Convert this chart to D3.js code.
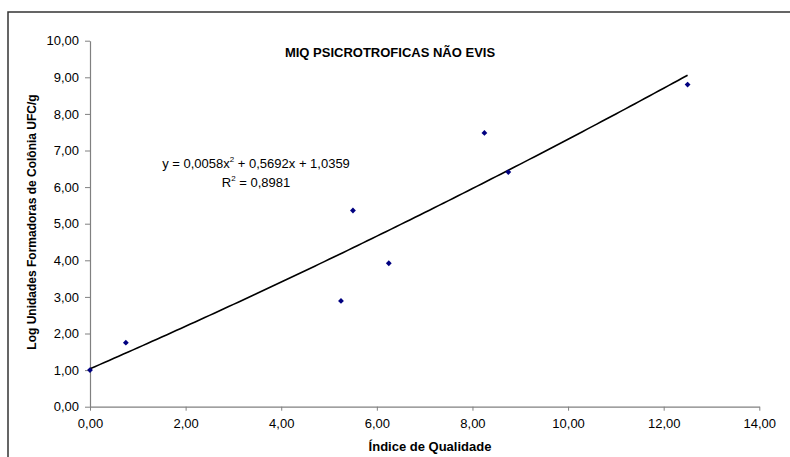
<!DOCTYPE html>
<html><head><meta charset="utf-8">
<script src="https://cdn.jsdelivr.net/npm/d3@7"></script>
<style>body{margin:0;background:#fff;}svg{display:block;font-family:"Liberation Sans",Arial,sans-serif;}</style>
</head><body>
<svg id="c" width="790" height="457"></svg>
<script>
const xValues = [0, 0.75, 5.25, 5.5, 6.25, 8.25, 8.75, 12.5];
const yValues = [1.00, 1.75, 2.89, 5.36, 3.92, 7.48, 6.41, 8.80];
const coef = [0.0058, 0.5692, 1.0359];
const xTicks = [0, 2, 4, 6, 8, 10, 12, 14];
const yTicks = [0, 1, 2, 3, 4, 5, 6, 7, 8, 9, 10];
const title = "MIQ PSICROTROFICAS NÃO EVIS";
const xLabel = "Índice de Qualidade";
const yLabel = "Log Unidades Formadoras de Colônia UFC/g";

const svg = d3.select("#c");
const fmt = v => v.toFixed(2).replace(".", ",");
const x = d3.scaleLinear().domain([0, 14]).range([90, 759.3]);
const y = d3.scaleLinear().domain([0, 10]).range([406.7, 40.7]);
const FONT = '"Liberation Sans",Arial,sans-serif';

// outer frame
svg.append("rect").attr("x", 8).attr("y", 12).attr("width", 800).attr("height", 500)
  .attr("fill", "none").attr("stroke", "#333").attr("stroke-width", 1.5);

const xa = svg.append("g").attr("transform", `translate(0,${y(0)})`)
  .call(d3.axisBottom(x).tickValues(xTicks).tickFormat(fmt).tickSize(4).tickSizeOuter(0));
const ya = svg.append("g").attr("transform", `translate(${x(0)},0)`)
  .call(d3.axisLeft(y).tickValues(yTicks).tickFormat(fmt).tickSize(5).tickSizeOuter(0));
[xa, ya].forEach(a => {
  a.select(".domain").attr("stroke", "#808080").attr("stroke-width", 1.2);
  a.selectAll(".tick line").attr("stroke", "#808080");
  a.selectAll("text").attr("fill", "#000").style("font-size", "13px").style("font-family", FONT);
});
xa.selectAll("text").attr("dy", null).attr("y", 21);
ya.selectAll("text").attr("x", -11);

// trendline
const xs = d3.range(0, 12.5001, 0.1);
const line = d3.line().x(d => x(d)).y(d => y(coef[0]*d*d + coef[1]*d + coef[2]));
svg.append("path").datum(xs).attr("d", line).attr("fill", "none").attr("stroke", "#000").attr("stroke-width", 1.6);

// points (square diamonds)
const diamond = { draw(ctx, size) { const r = Math.sqrt(size) / 2 * 1.3;
  ctx.moveTo(0, -r); ctx.lineTo(r, 0); ctx.lineTo(0, r); ctx.lineTo(-r, 0); ctx.closePath(); } };
const pts = xValues.map((v, i) => [v, yValues[i]]);
svg.selectAll(".pt").data(pts).join("path").attr("class", "pt")
  .attr("d", d3.symbol(diamond, 20))
  .attr("transform", d => `translate(${x(d[0])},${y(d[1])})`)
  .attr("fill", "#000080");

// title
svg.append("text").attr("x", 390).attr("y", 57).attr("text-anchor", "middle")
  .style("font-size", "13px").style("font-weight", "bold").text(title);

// axis labels
svg.append("text").attr("x", 430).attr("y", 451).attr("text-anchor", "middle")
  .style("font-size", "13px").style("font-weight", "bold").text(xLabel);
svg.append("text").attr("transform", "translate(36,222) rotate(-90)").attr("text-anchor", "middle")
  .style("font-size", "12px").style("font-weight", "bold").text(yLabel);

// equation
const eq = svg.append("text").attr("x", 256).attr("y", 168).attr("text-anchor", "middle").style("font-size", "13px");
eq.append("tspan").text("y = 0,0058x");
eq.append("tspan").attr("dy", -6).style("font-size", "8px").text("2");
eq.append("tspan").attr("dy", 6).text(" + 0,5692x + 1,0359");
const r2 = svg.append("text").attr("x", 256).attr("y", 187).attr("text-anchor", "middle").style("font-size", "13px");
r2.append("tspan").text("R");
r2.append("tspan").attr("dy", -6).style("font-size", "8px").text("2");
r2.append("tspan").attr("dy", 6).text(" = 0,8981");
</script>
</body></html>
